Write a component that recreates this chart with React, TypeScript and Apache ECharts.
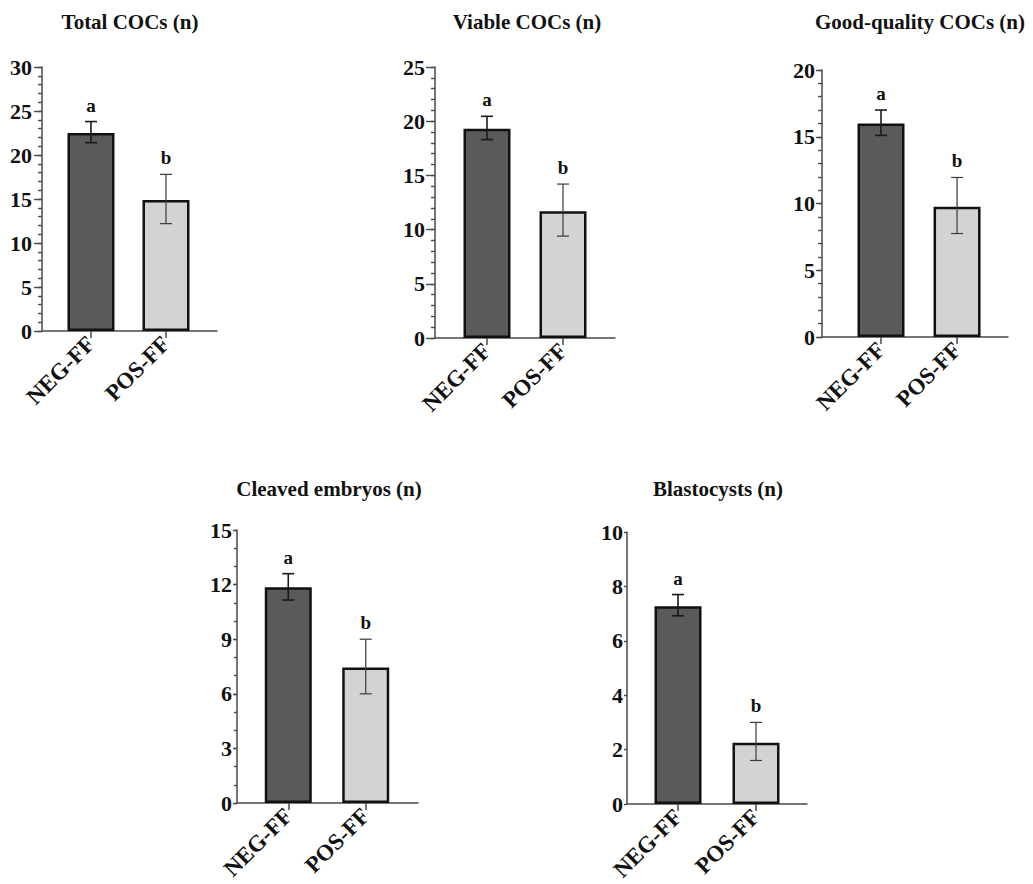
import React, { useEffect, useRef } from "react";
import * as echarts from "echarts";

const categories = ["NEG-FF", "POS-FF"];
const xPositions = [1, 2];
const letters = ["a", "b"];

const titles = [
  "Total COCs (n)",
  "Viable COCs (n)",
  "Good-quality COCs (n)",
  "Cleaved embryos (n)",
  "Blastocysts (n)",
];

const totalMean = [22.5, 14.9];
const totalLow = [21.4, 12.2];
const totalHigh = [23.8, 17.8];

const viableMean = [19.3, 11.7];
const viableLow = [18.3, 9.4];
const viableHigh = [20.45, 14.2];

const goodMean = [16.0, 9.75];
const goodLow = [15.1, 7.75];
const goodHigh = [17.0, 11.95];

const cleavedMean = [11.85, 7.45];
const cleavedLow = [11.15, 6.0];
const cleavedHigh = [12.6, 9.0];

const blastMean = [7.27, 2.25];
const blastLow = [6.92, 1.6];
const blastHigh = [7.7, 3.0];

const yMax = [30, 25, 20, 15, 10];
const yInterval = [5, 5, 5, 3, 2];
const yMinorInterval = [1, 1, 1, 1, 0];

const means = [totalMean, viableMean, goodMean, cleavedMean, blastMean];
const lows = [totalLow, viableLow, goodLow, cleavedLow, blastLow];
const highs = [totalHigh, viableHigh, goodHigh, cleavedHigh, blastHigh];

// layout (pixels)
const grids = [
  { left: 42, top: 67, width: 175, height: 264, xMin: 0.347, xMax: 2.68, tx: 130, ty: 22, major: 8, minor: 4, margin: 10 },
  { left: 435, top: 67, width: 180, height: 271, xMin: 0.316, xMax: 2.684, tx: 527, ty: 22, major: 9, minor: 4, margin: 10 },
  { left: 822, top: 70, width: 186, height: 267, xMin: 0.224, xMax: 2.67, tx: 920, ty: 22, major: 6, minor: 4, margin: 7 },
  { left: 237, top: 530, width: 181, height: 273, xMin: 0.338, xMax: 2.675, tx: 329, ty: 489, major: 4, minor: 3, margin: 5 },
  { left: 627, top: 532, width: 180, height: 272, xMin: 0.346, xMax: 2.654, tx: 718, ty: 489, major: 3, minor: 0, margin: 4 },
];

const FONT = "'Liberation Serif', 'Times New Roman', serif";
const barColors = ["#5a5a5a", "#d3d3d3"];
const errColors = ["#1a1a1a", "#3a3a3a"];
const AXIS = "#4a4a4a";

export default function App() {
  const ref = useRef<HTMLDivElement>(null);
  useEffect(() => {
    if (!ref.current) return;
    const chart = echarts.init(ref.current, null, { renderer: "svg" });
    const series: any[] = [];
    means.forEach((m, i) => {
      series.push({
        type: "bar",
        xAxisIndex: i,
        yAxisIndex: i,
        barWidth: 47,
        data: m.map((v, j) => ({
          value: [xPositions[j], v],
          itemStyle: { color: barColors[j], borderColor: "#111", borderWidth: 2.5 },
        })),
        z: 2,
      });
      series.push({
        type: "custom",
        xAxisIndex: i,
        yAxisIndex: i,
        z: 5,
        data: m.map((_, j) => [xPositions[j], lows[i][j], highs[i][j], j]),
        renderItem: (params: any, api: any) => {
          const x = api.value(0);
          const lo = api.value(1);
          const hi = api.value(2);
          const j = api.value(3);
          const pHi = api.coord([x, hi]);
          const pLo = api.coord([x, lo]);
          const cw = 6;
          const stroke = errColors[j];
          const lw = j === 0 ? 1.6 : 1.2;
          return {
            type: "group",
            children: [
              { type: "line", shape: { x1: pHi[0], y1: pHi[1], x2: pLo[0], y2: pLo[1] }, style: { stroke, lineWidth: lw } },
              { type: "line", shape: { x1: pHi[0] - cw, y1: pHi[1], x2: pHi[0] + cw, y2: pHi[1] }, style: { stroke, lineWidth: lw } },
              { type: "line", shape: { x1: pLo[0] - cw, y1: pLo[1], x2: pLo[0] + cw, y2: pLo[1] }, style: { stroke, lineWidth: lw } },
              {
                type: "text",
                x: pHi[0],
                y: pHi[1] - 7,
                style: {
                  text: letters[j],
                  fill: "#111",
                  font: `bold 19px ${FONT}`,
                  align: "center",
                  verticalAlign: "bottom",
                },
              },
            ],
          };
        },
      });
    });

    const yAxes: any[] = grids.map((g, i) => ({
      type: "value",
      gridIndex: i,
      position: "left",
      min: 0,
      max: yMax[i],
      interval: yInterval[i],
      splitLine: { show: false },
      axisLine: { show: true, lineStyle: { color: AXIS, width: 1.5 } },
      axisTick: { show: true, length: g.major, lineStyle: { color: AXIS, width: 1.4 } },
      axisLabel: {
        margin: g.margin,
        fontFamily: FONT,
        fontWeight: "bold",
        fontSize: 22,
        color: "#111",
      },
      z: 3,
    }));
    // minor tick overlays
    grids.forEach((g, i) => {
      if (!yMinorInterval[i]) return;
      yAxes.push({
        type: "value",
        gridIndex: i,
        position: "left",
        offset: 0,
        min: 0,
        max: yMax[i],
        interval: yMinorInterval[i],
        splitLine: { show: false },
        axisLine: { show: false },
        axisTick: { show: true, length: g.minor, lineStyle: { color: AXIS, width: 1.4 } },
        axisLabel: { show: false },
        z: 3,
      });
    });

    const option: any = {
      animation: false,
      backgroundColor: "#ffffff",
      grid: grids.map((g) => ({ left: g.left, top: g.top, width: g.width, height: g.height, containLabel: false })),
      xAxis: grids.map((g, i) => ({
        type: "value",
        gridIndex: i,
        min: g.xMin,
        max: g.xMax,
        splitLine: { show: false },
        axisLine: { show: true, onZero: false, lineStyle: { color: AXIS, width: 1.5 } },
        axisTick: { show: true, customValues: xPositions, length: 7, lineStyle: { color: AXIS, width: 1.5 } },
        axisLabel: {
          customValues: xPositions,
          rotate: 45,
          margin: 9,
          fontFamily: FONT,
          fontWeight: "bold",
          fontSize: 23,
          color: "#111",
          formatter: (v: number) => categories[xPositions.indexOf(Math.round(v))] ?? "",
        },
      })),
      yAxis: yAxes,
      graphic: grids.map((g, i) => ({
        type: "text",
        x: g.tx,
        y: g.ty,
        style: {
          text: titles[i],
          fill: "#111",
          font: `bold 21px ${FONT}`,
          align: "center",
          verticalAlign: "middle",
        },
      })),
      series,
    };
    chart.setOption(option);
    return () => chart.dispose();
  }, []);
  return (
    <div
      ref={ref}
      style={{ position: "absolute", left: 0, top: 0, width: 1033, height: 884, background: "#fff" }}
    />
  );
}
